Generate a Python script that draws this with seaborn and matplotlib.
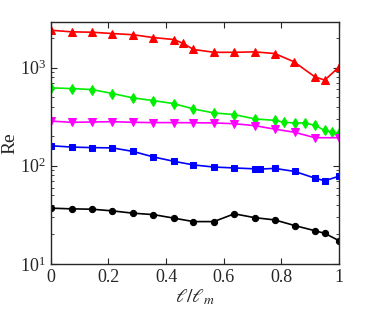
# Re vs l/l_m, five series on a log axis
import numpy as np
import pandas as pd
import matplotlib
matplotlib.use("Agg")
import matplotlib.pyplot as plt
import seaborn as sns

# data
x_red = [0, 0.072, 0.143, 0.214, 0.285, 0.356, 0.427, 0.46, 0.495, 0.566, 0.637, 0.708, 0.777, 0.843, 0.917, 0.951, 1.0]
re_red = [2400, 2310, 2290, 2220, 2160, 2020, 1930, 1760, 1530, 1430, 1430, 1445, 1390, 1150, 804, 745, 1010]

x_green = [0, 0.072, 0.143, 0.214, 0.285, 0.356, 0.427, 0.495, 0.566, 0.637, 0.708, 0.777, 0.81, 0.847, 0.882, 0.917, 0.951, 0.975, 1.0]
re_green = [621, 611, 597, 544, 491, 461, 429, 379, 345, 332, 300, 290, 277, 273, 273, 258, 229, 219, 216]

x_magenta = [0, 0.072, 0.143, 0.214, 0.285, 0.356, 0.427, 0.495, 0.566, 0.637, 0.708, 0.777, 0.847, 0.917, 1.0]
re_magenta = [285, 277, 279, 281, 277, 275, 275, 274, 273, 268, 256, 236, 219, 193, 193]

x_blue = [0, 0.072, 0.143, 0.214, 0.285, 0.356, 0.427, 0.495, 0.566, 0.637, 0.708, 0.726, 0.777, 0.847, 0.917, 0.951, 1.0]
re_blue = [160, 155, 153, 152, 140, 123, 111, 102, 97, 95, 93, 92.5, 94, 87.5, 74.8, 70.3, 78.2]

x_black = [0, 0.072, 0.143, 0.214, 0.285, 0.356, 0.427, 0.495, 0.566, 0.637, 0.708, 0.777, 0.847, 0.917, 0.951, 1.0]
re_black = [37.0, 36.4, 36.1, 34.7, 32.9, 31.8, 29.3, 27.0, 27.0, 32.4, 29.6, 28.1, 24.6, 21.8, 20.5, 17.3]

sns.set_style("ticks")
plt.rcParams['font.family'] = ['Liberation Serif', 'DejaVu Serif']
plt.rcParams['mathtext.fontset'] = 'stix'

fig = plt.figure(figsize=(3.74, 3.12), dpi=100)
ax = fig.add_axes([0.136, 0.154, 0.770, 0.775])

series = [
    (x_red, re_red, "#ff0000", "^", 5.5),
    (x_green, re_green, "#00ee00", "d", 5.5),
    (x_magenta, re_magenta, "#ff00ff", "v", 5.5),
    (x_blue, re_blue, "#0000ff", "s", 4),
    (x_black, re_black, "#000000", "o", 4.5),
]
for xs, ys, col, mk, ms in series:
    df = pd.DataFrame({"x": xs, "y": ys})
    sns.lineplot(data=df, x="x", y="y", ax=ax, color=col, marker=mk,
                 markersize=ms, markeredgecolor=col, linewidth=1.2, sort=False)

ax.set_yscale("log")
ax.set_xlim(0, 1)
ax.set_ylim(10, 2900)
ax.set_xticks([0, 0.2, 0.4, 0.6, 0.8, 1])
ax.set_xticklabels(["0", "0.2", "0.4", "0.6", "0.8", "1"])
ax.tick_params(which="both", direction="in", top=True, right=True, labelsize=13, colors="#262626")
ax.tick_params(which="major", length=4, width=0.8)
ax.tick_params(which="minor", length=2.5, width=0.6)
ax.tick_params(axis="x", which="minor", bottom=False, top=False)
for s in ax.spines.values():
    s.set_linewidth(1.0)
    s.set_color("#262626")

ax.set_xlabel(r"$\ell/\ell_m$", fontsize=14, labelpad=1, color="#262626")
ax.set_ylabel("Re", fontsize=14, labelpad=1, color="#262626")

fig.savefig("out.png", dpi=100)
